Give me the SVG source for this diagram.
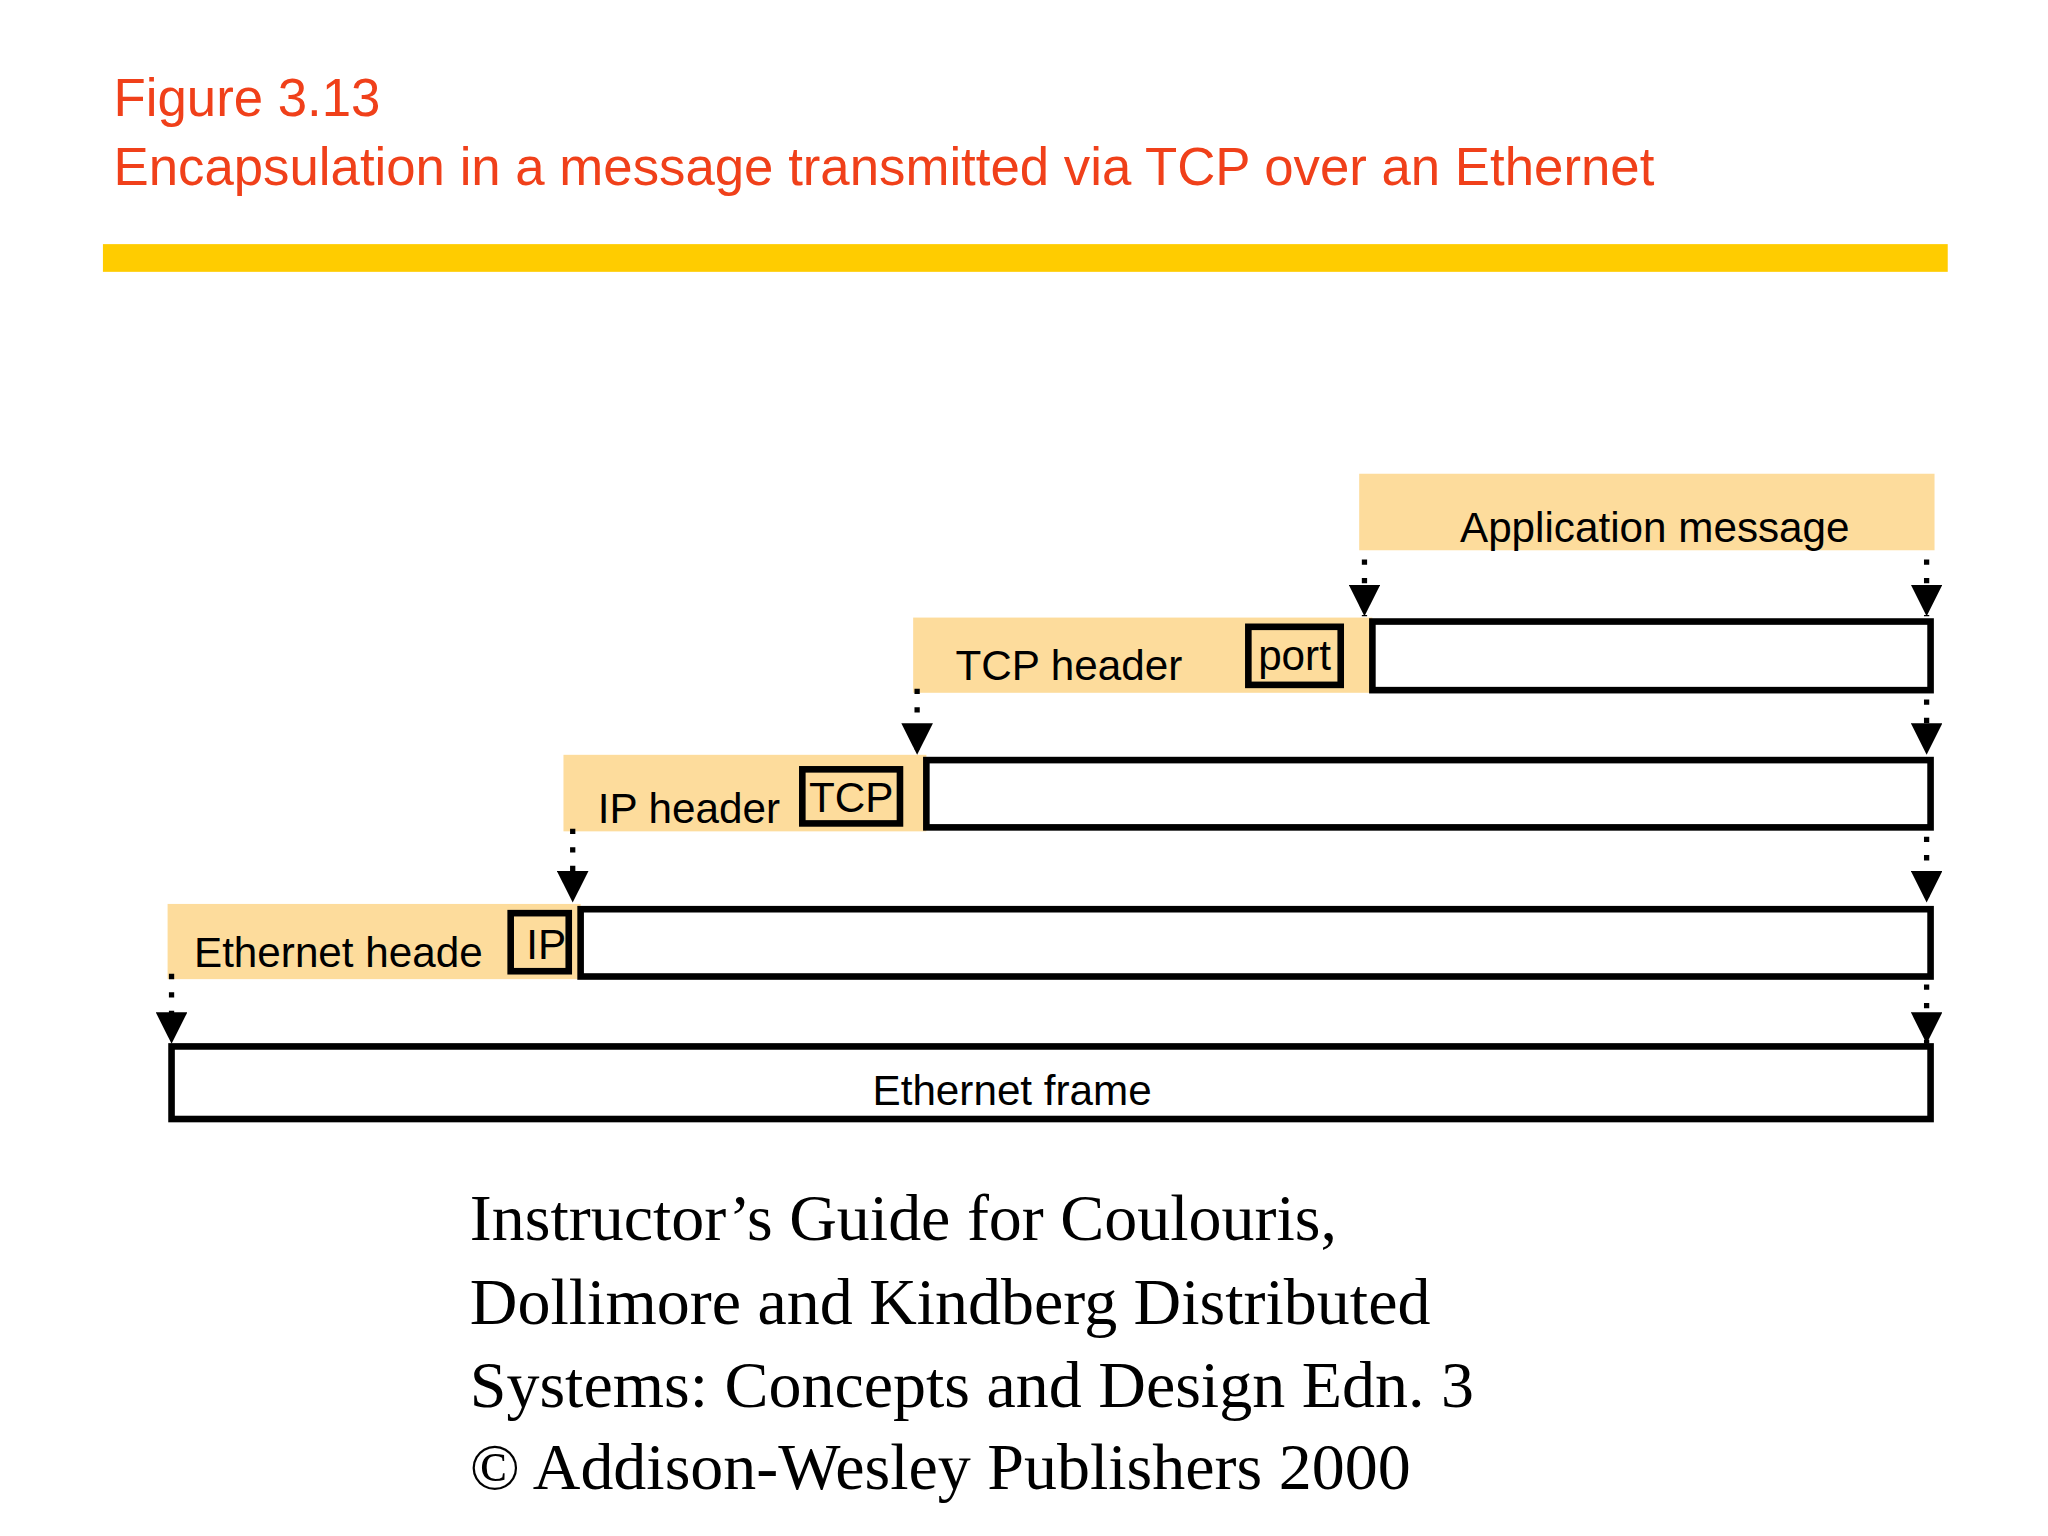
<svg xmlns="http://www.w3.org/2000/svg" width="2048" height="1536" viewBox="0 0 2048 1536">
<defs>
<style>
.t{font-family:"Liberation Sans",Arial,sans-serif;fill:#F0401A;font-size:40px}
.l{font-family:"Liberation Sans",Arial,sans-serif;fill:#000;font-size:32px}
.f{font-family:"Liberation Serif","Times New Roman",serif;fill:#000;font-size:50px}
.hd{fill:#FDDC9C}
.bx{fill:none;stroke:#000;stroke-width:5}
.dl{stroke:#000;stroke-width:4;stroke-dasharray:4 10;fill:none}
</style>
<marker id="ah" viewBox="0 0 10 10" refX="10" refY="5" markerWidth="6" markerHeight="6" markerUnits="strokeWidth" orient="auto"><path d="M0,0 L10,5 L0,10 z" fill="#000"/></marker>
</defs>
<rect width="2048" height="1536" fill="#fff"/>
<g transform="scale(1.3196)">
<text class="t" x="86" y="88">Figure 3.13</text>
<text class="t" x="86" y="140">Encapsulation in a message transmitted via TCP over an Ethernet</text>
<rect x="78" y="185" width="1398" height="21" fill="#FFCC00"/>
<g id="app"><rect class="hd" x="1030" y="359" width="436" height="58"/><text class="l" x="1254" y="411" text-anchor="middle">Application message</text></g>
<g id="tcp"><rect class="hd" x="692" y="468" width="348" height="57"/><rect class="bx" x="1040" y="471" width="423" height="52"/><text class="l" x="724" y="515">TCP header</text><rect class="bx" x="946" y="475" width="70" height="44"/><text class="l" x="981" y="508" text-anchor="middle" font-size="28">port</text></g>
<g id="ip"><rect class="hd" x="427" y="572" width="275" height="58"/><rect class="bx" x="702" y="576" width="761" height="51"/><text class="l" x="453" y="624">IP header</text><rect class="bx" x="608" y="583" width="74" height="41"/><text class="l" x="645" y="615" text-anchor="middle" font-size="28">TCP</text></g>
<g id="eth"><rect class="hd" x="127" y="685" width="313" height="57"/><rect class="bx" x="440" y="689" width="1023" height="51"/><text class="l" x="147" y="733">Ethernet heade</text><rect class="bx" x="387" y="692" width="44" height="44"/><text class="l" x="414" y="727" text-anchor="middle" font-size="28">IP</text></g>
<g id="frame"><rect class="bx" x="130" y="793" width="1333" height="55"/><text class="l" x="767" y="837" text-anchor="middle">Ethernet frame</text></g>
<g id="connectors">
<line class="dl" x1="1034" y1="424" x2="1034" y2="467" marker-end="url(#ah)"/>
<line class="dl" x1="1460" y1="424" x2="1460" y2="467" marker-end="url(#ah)"/>
<line class="dl" x1="695" y1="522" x2="695" y2="572" marker-end="url(#ah)"/>
<line class="dl" x1="1460" y1="530" x2="1460" y2="572" marker-end="url(#ah)"/>
<line class="dl" x1="434" y1="628" x2="434" y2="684" marker-end="url(#ah)"/>
<line class="dl" x1="1460" y1="634" x2="1460" y2="684" marker-end="url(#ah)"/>
<line class="dl" x1="130" y1="738" x2="130" y2="791" marker-end="url(#ah)"/>
<line class="dl" x1="1460" y1="746" x2="1460" y2="791" marker-end="url(#ah)"/>
</g>
<text class="f" x="356" y="940">Instructor’s Guide for  Coulouris,</text>
<text class="f" x="356" y="1003">Dollimore and Kindberg   Distributed</text>
<text class="f" x="356" y="1066">Systems: Concepts and Design   Edn. 3</text>
<text class="f" x="356" y="1128">©  Addison-Wesley Publishers 2000</text>
</g>
</svg>
